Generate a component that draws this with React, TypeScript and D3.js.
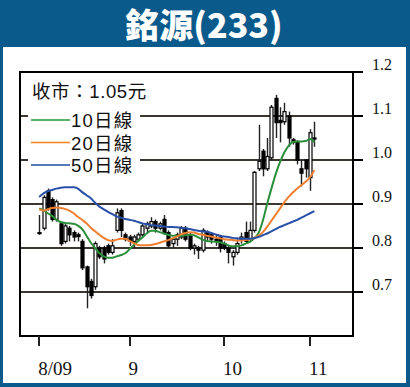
import React from "react";
import * as d3 from "d3";

const W = 410;
const H = 387;

const opens = [0.835,0.845,0.93,0.91,0.865,0.855,0.815,0.845,0.835,0.83,0.815,0.757,0.724,0.712,0.8,0.8,0.805,0.79,0.84,0.885,0.83,0.825,0.815,0.82,0.83,0.845,0.85,0.86,0.845,0.865,0.835,0.81,0.82,0.825,0.845,0.83,0.8,0.8,0.795,0.835,0.83,0.82,0.825,0.81,0.8,0.78,0.79,0.82,0.835,0.82,0.84,0.98,1.02,0.98,1.005,1.14,1.09,1.087,1.1,1.046,1.04,0.98,1.0,0.96,1.05];
const highs = [0.875,0.92,0.935,0.915,0.91,0.86,0.855,0.85,0.84,0.835,0.82,0.76,0.73,0.815,0.805,0.805,0.81,0.82,0.89,0.89,0.835,0.83,0.83,0.835,0.855,0.86,0.87,0.865,0.86,0.875,0.84,0.825,0.835,0.85,0.85,0.835,0.81,0.805,0.845,0.84,0.835,0.83,0.83,0.815,0.805,0.795,0.82,0.835,0.86,0.86,0.975,1.08,1.025,1.05,1.125,1.148,1.12,1.13,1.11,1.05,1.045,1.0,1.0,1.07,1.087];
const lows = [0.83,0.84,0.885,0.86,0.86,0.805,0.81,0.815,0.815,0.815,0.75,0.663,0.685,0.705,0.775,0.765,0.785,0.785,0.835,0.825,0.815,0.805,0.8,0.815,0.825,0.835,0.845,0.835,0.84,0.83,0.8,0.8,0.805,0.82,0.815,0.795,0.785,0.775,0.79,0.815,0.81,0.805,0.79,0.795,0.765,0.76,0.785,0.81,0.81,0.815,0.835,0.975,0.963,0.975,1.0,1.05,1.04,1.08,1.03,1.035,0.99,0.94,0.96,0.93,1.03];
const closes = [0.835,0.915,0.89,0.865,0.905,0.81,0.85,0.83,0.825,0.826,0.755,0.712,0.692,0.81,0.78,0.775,0.79,0.805,0.88,0.84,0.82,0.815,0.825,0.83,0.85,0.855,0.86,0.845,0.855,0.835,0.805,0.82,0.83,0.845,0.82,0.8,0.805,0.795,0.84,0.825,0.82,0.815,0.8,0.8,0.79,0.79,0.81,0.825,0.815,0.84,0.972,0.997,0.98,1.008,1.12,1.085,1.085,1.11,1.05,1.04,1.0,0.97,0.98,1.062,1.05];

const ma10 = [0.89,0.886,0.879,0.873,0.864,0.859,0.857,0.856,0.855,0.851,0.843,0.828,0.812,0.8,0.788,0.781,0.778,0.778,0.781,0.784,0.788,0.797,0.807,0.816,0.824,0.833,0.839,0.839,0.836,0.833,0.83,0.828,0.828,0.828,0.829,0.83,0.829,0.824,0.819,0.816,0.815,0.814,0.813,0.81,0.806,0.804,0.804,0.806,0.81,0.814,0.822,0.834,0.862,0.9,0.935,0.968,0.995,1.017,1.032,1.041,1.042,1.042,1.043,1.048,1.041];
const ma20 = [0.888,0.885,0.888,0.891,0.892,0.891,0.889,0.885,0.879,0.871,0.864,0.856,0.846,0.838,0.83,0.823,0.818,0.816,0.819,0.821,0.821,0.816,0.811,0.807,0.806,0.806,0.807,0.809,0.812,0.815,0.818,0.822,0.826,0.831,0.834,0.836,0.835,0.832,0.83,0.828,0.826,0.824,0.822,0.82,0.819,0.818,0.817,0.817,0.818,0.82,0.823,0.828,0.836,0.848,0.862,0.876,0.89,0.904,0.916,0.926,0.935,0.943,0.951,0.961,0.977];
const ma50 = [0.916,0.924,0.929,0.932,0.935,0.937,0.938,0.938,0.938,0.935,0.927,0.92,0.913,0.903,0.894,0.888,0.882,0.877,0.872,0.869,0.866,0.864,0.862,0.859,0.856,0.854,0.852,0.851,0.85,0.849,0.848,0.848,0.847,0.846,0.845,0.843,0.841,0.839,0.838,0.837,0.834,0.831,0.828,0.826,0.825,0.823,0.822,0.821,0.821,0.821,0.822,0.825,0.829,0.833,0.838,0.843,0.848,0.852,0.856,0.86,0.864,0.869,0.874,0.879,0.884];

const monthTickIdx = [0, 21, 43, 63];
const monthLabels = ["8/09", "9", "10", "11"];
const yTicks = [0.7, 0.8, 0.9, 1.0, 1.1, 1.2];
const gridValues = [0.7, 0.8, 0.9, 1.0, 1.1];

const legendItems = [
  { label: "10日線", color: "#1f9e3a", data: ma10, lineColor: "#2a8f3a" },
  { label: "20日線", color: "#f4821f", data: ma20, lineColor: "#f08030" },
  { label: "50日線", color: "#1d4b9e", data: ma50, lineColor: "#2850a8" },
];

export default function App() {
  const box = { x0: 20, x1: 353, y0: 72, y1: 336 };
  const x = d3.scaleLinear().domain([0, 64]).range([39.2, 314.4]);
  const y = d3.scaleLinear().domain([0.6, 1.2]).range([336, 72]);
  const line = (arr: number[]) =>
    d3
      .line<number>()
      .x((_, i) => x(i))
      .y((v) => y(v))
      .curve(d3.curveMonotoneX)(arr) as string;

  const cjk = "'Liberation Sans', Arial, 'Noto Sans CJK TC', sans-serif";
  const serif = "'Liberation Serif', 'Times New Roman', serif";

  return (
    <svg
      width={W}
      height={H}
      style={{ position: "absolute", left: 0, top: 0 }}
      xmlns="http://www.w3.org/2000/svg"
    >
      <rect x={0} y={0} width={W} height={H} fill="#0b5a8c" />
      <rect x={3} y={47} width={403} height={336} fill="#ffffff" />
      <text
        x={204}
        y={38}
        textAnchor="middle"
        fill="#ffffff"
        fontFamily="'Noto Sans CJK TC', sans-serif"
        fontWeight={900}
        fontSize={34}
      >
        銘源(233)
      </text>

      {/* gridlines */}
      {gridValues.map((v) => (
        <line
          key={v}
          x1={box.x0}
          x2={box.x1}
          y1={y(v)}
          y2={y(v)}
          stroke="#3b3630"
          strokeWidth={2}
        />
      ))}

      {/* legend background */}
      <rect x={28} y={76} width={112} height={97} fill="#ffffff" />
      <text x={32} y={98} fontFamily={cjk} fontSize={18.5} fill="#111" letterSpacing={0.6}>
        收市：1.05元
      </text>
      {legendItems.map((it, k) => (
        <g key={it.label}>
          <line
            x1={31}
            x2={70}
            y1={120 + k * 22.5}
            y2={120 + k * 22.5}
            stroke={it.color}
            strokeWidth={1.6}
          />
          <text x={71} y={127 + k * 22.5} fontFamily={cjk} fontSize={18.5} fill="#111" letterSpacing={1.2}>
            {it.label}
          </text>
        </g>
      ))}

      {/* candles */}
      {opens.map((o, i) => {
        const c = closes[i];
        const cx = Math.round(x(i)) + 0.5;
        const top = y(Math.max(o, c));
        const bot = y(Math.min(o, c));
        const up = c >= o;
        return (
          <g key={i}>
            <line x1={cx} x2={cx} y1={y(highs[i])} y2={y(lows[i])} stroke="#222" strokeWidth={1.4} />
            <rect
              x={cx - 1.5}
              y={top}
              width={3}
              height={Math.max(bot - top, 1)}
              fill={up ? "#ffffff" : "#000000"}
              stroke="#000"
              strokeWidth={1.2}
            />
          </g>
        );
      })}

      {/* moving averages */}
      {legendItems.map((it) => (
        <path key={it.label} d={line(it.data)} fill="none" stroke={it.lineColor} strokeWidth={2} />
      ))}

      {/* frame */}
      <rect
        x={box.x0}
        y={box.y0}
        width={box.x1 - box.x0}
        height={box.y1 - box.y0}
        fill="none"
        stroke="#000"
        strokeWidth={2}
      />

      {/* right axis */}
      {yTicks.map((v) => (
        <g key={v}>
          <line x1={box.x1} x2={363} y1={y(v)} y2={y(v)} stroke="#000" strokeWidth={2} />
          <text x={372} y={y(v) - 2} fontFamily={serif} fontSize={16} fill="#111">
            {v.toFixed(1)}
          </text>
        </g>
      ))}

      {/* bottom axis */}
      {monthTickIdx.map((idx, k) => (
        <g key={idx}>
          <line
            x1={Math.round(x(idx))}
            x2={Math.round(x(idx))}
            y1={box.y1}
            y2={346}
            stroke="#222"
            strokeWidth={2}
          />
          <text x={x(idx) - 1} y={375} fontFamily={serif} fontSize={19} fill="#111">
            {monthLabels[k]}
          </text>
        </g>
      ))}
    </svg>
  );
}
